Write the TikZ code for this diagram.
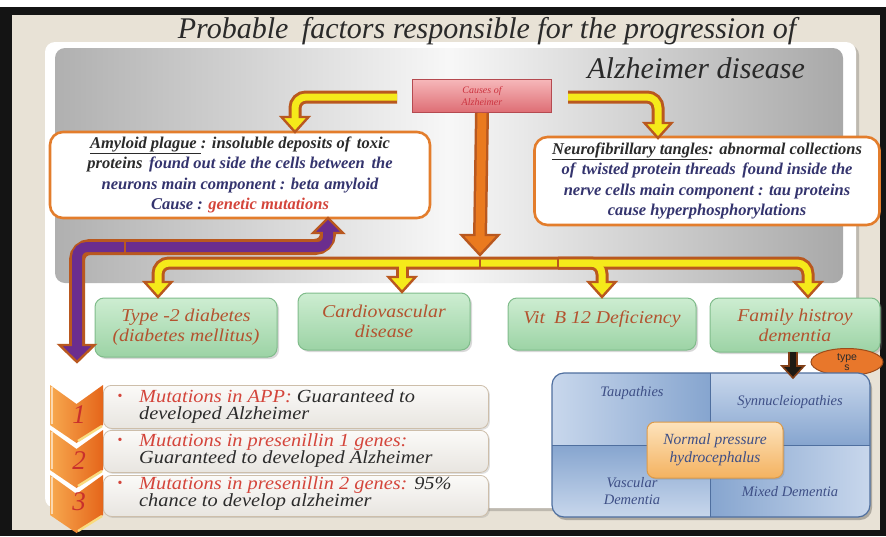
\documentclass[tikz,border=0pt]{standalone}
\usepackage{fontspec}
\setmainfont{Liberation Serif}[ItalicFont={Liberation Serif Italic}, BoldItalicFont={Liberation Serif Bold Italic}, BoldFont={Liberation Serif Bold}]
\newfontfamily\widefont{Liberation Serif}[FakeStretch=1.1, ItalicFont={Liberation Serif Italic}]
\newfontfamily\sansf{Liberation Sans}
\usetikzlibrary{shadows,shapes.geometric,calc}

\definecolor{bgbeige}{HTML}{E8E2D6}
\definecolor{frameblk}{HTML}{141414}
\definecolor{titlec}{HTML}{2A2A2A}
\definecolor{brn}{HTML}{B9581F}
\definecolor{ylw}{HTML}{F5EA1A}
\definecolor{orgA}{HTML}{EA7A1F}
\definecolor{purp}{HTML}{6B2D8E}
\definecolor{navy}{HTML}{34346E}
\definecolor{redt}{HTML}{D4453B}
\definecolor{grnt}{HTML}{B3532F}
\definecolor{infoborder}{HTML}{E37D2C}
\definecolor{gtop}{HTML}{CDEDD1}
\definecolor{gbot}{HTML}{9CD3A5}
\definecolor{gbrd}{HTML}{80BC8B}
\definecolor{ctop}{HTML}{F6B7B9}
\definecolor{cbot}{HTML}{DE6D74}
\definecolor{cbrd}{HTML}{B54A50}
\definecolor{ctext}{HTML}{CC3440}
\definecolor{blite}{HTML}{C8D7EC}
\definecolor{bdark}{HTML}{86A5CF}
\definecolor{bbrd}{HTML}{4F6F9F}
\definecolor{btext}{HTML}{3E4F86}
\definecolor{ntop}{HTML}{FDE3BC}
\definecolor{nbot}{HTML}{F4B260}
\definecolor{nbrd}{HTML}{DB9A4A}
\definecolor{ltop}{HTML}{FBFAF8}
\definecolor{lbot}{HTML}{E8E5E0}
\definecolor{lbrd}{HTML}{CDBEAA}
\definecolor{chl}{HTML}{F7A94F}
\definecolor{chd}{HTML}{E5651A}
\definecolor{chhi}{HTML}{F9DB7E}
\definecolor{numc}{HTML}{C9302C}
\definecolor{darkt}{HTML}{2B2B2B}
\definecolor{typesc}{HTML}{E8772B}
\definecolor{darkarr}{HTML}{1E1A14}

\begin{document}
\begin{tikzpicture}[x=1pt,y=-1pt,
  titlef/.style={font=\fontsize{30}{34}\selectfont\itshape, text=titlec, inner sep=0pt},
  causesbox/.style={draw=cbrd, line width=1pt, top color=ctop, bottom color=cbot, minimum width=139pt, minimum height=33pt, inner sep=0pt, align=center, font=\fontsize{10}{12}\selectfont\itshape, text=ctext},
  infobox/.style={draw=infoborder, line width=2.6pt, fill=white, rounded corners=13pt, align=center, inner sep=0pt, font=\fontsize{16.5}{20.5}\selectfont\bfseries\itshape, text=darkt},
  gbox/.style={draw=gbrd, line width=1pt, top color=gtop, bottom color=gbot, rounded corners=9pt, align=center, inner sep=0pt, font=\widefont\fontsize{18}{20}\selectfont\itshape, text=grnt, drop shadow={opacity=0.3, shadow xshift=2pt, shadow yshift=-2pt}},
  celltext/.style={font=\fontsize{14.5}{17}\selectfont\itshape, text=btext, align=center, inner sep=0pt},
  npbox/.style={draw=nbrd, line width=1pt, top color=ntop, bottom color=nbot, rounded corners=8pt, minimum width=136pt, minimum height=56pt, align=center, inner sep=0pt, font=\fontsize{15.5}{18}\selectfont\itshape, text=btext, drop shadow={opacity=0.3, shadow xshift=1.5pt, shadow yshift=-1.5pt}},
  lbox/.style={draw=lbrd, line width=0.8pt, top color=ltop, bottom color=lbot, rounded corners=8pt, minimum width=385pt, inner sep=0pt, drop shadow={opacity=0.25, shadow xshift=1.5pt, shadow yshift=-1.5pt}},
  ltext/.style={font=\widefont\fontsize{18.5}{17}\selectfont\itshape, text=darkt, align=left, inner sep=0pt},
  bul/.style={font=\fontsize{14}{14}\selectfont, text=redt, inner sep=0pt},
  numf/.style={font=\fontsize{27}{27}\selectfont\itshape, text=numc, inner sep=0pt},
  ybrn/.style={draw=brn, line width=13pt, rounded corners=11pt},
  yin/.style={draw=ylw, line width=7pt, rounded corners=11pt},
  yhead/.style={fill=ylw, draw=brn, line width=2.4pt, line join=miter},
  seam/.style={draw=brn, line width=1.6pt},
]
\useasboundingbox (0,0) rectangle (886,536);
% frame and panels
\fill[white] (0,0) rectangle (886,536);
\fill[frameblk] (0,7) rectangle (886,536);
\fill[bgbeige] (12,15) rectangle (880,530);
\fill[black, opacity=0.18, rounded corners=10pt] (48,45) rectangle (859,511);
\fill[white, rounded corners=10pt] (45,42) rectangle (856,508);
\shade[rounded corners=10pt, left color=gray!62, right color=gray!68, middle color=gray!6] (55,48) rectangle (843,283);

% title
\node[titlef, anchor=base] (title1) at (487,38) {Probable\hspace{0.45em}factors responsible for the progression of};
\node[titlef, anchor=base east] (title2) at (805,78) {Alzheimer disease};

% causes
\node[causesbox] (causes) at (482,96) {Causes of\\Alzheimer};

% info boxes
\node[infobox, minimum width=380pt, minimum height=86pt] (amy) at (240,175)
  {\underline{Amyloid plague }: insoluble deposits of\hspace{0.4em}toxic\\
   proteins\hspace{0.4em}{\color{navy}found out side the cells between\hspace{0.4em}the}\\
   {\color{navy}neurons main component : beta\hspace{0.3em}amyloid}\\
   {\color{navy}Cause :} {\color{redt}genetic mutations}};
\node[infobox, minimum width=345pt, minimum height=88pt] (neu) at (707,181)
  {\underline{Neurofibrillary tangles}: abnormal collections\\
   {\color{navy}of\hspace{0.4em}twisted protein threads\hspace{0.4em}found inside the}\\
   {\color{navy}nerve cells main component : tau proteins}\\
   {\color{navy}cause hyperphosphorylations}};

% green boxes
\node[gbox, minimum width=182pt, minimum height=59pt] (dia) at (186,327.5) {Type -2 diabetes\\(diabetes mellitus)};
\node[gbox, minimum width=172pt, minimum height=57pt] (car) at (384,321.5) {Cardiovascular\\disease};
\node[gbox, minimum width=188pt, minimum height=52pt, text depth=14pt] (vit) at (602,324) {Vit\hspace{0.5em}B 12 Deficiency};
\node[gbox, minimum width=170pt, minimum height=54pt] (fam) at (795,325) {Family histroy\\dementia};

% types ellipse
\node[ellipse, fill=typesc, draw=brn!85!black, line width=1pt, minimum width=72pt, minimum height=27pt, inner sep=0pt, align=center, font=\sansf\fontsize{10.5}{10}\selectfont, text=darkt] (types) at (847,362) {type\\s};

% matrix of dementia types
\fill[black, opacity=0.25, rounded corners=12pt] (554,376) rectangle (872,520);
\begin{scope}
  \clip[rounded corners=12pt] (552,373) rectangle (870,517);
  \shade[left color=blite, right color=bdark] (552,373) rectangle (710,445);
  \shade[top color=blite, bottom color=bdark] (710,373) rectangle (870,445);
  \shade[shading=axis, shading angle=45, top color=bdark, bottom color=blite] (552,445) rectangle (710,517);
  \shade[left color=bdark, right color=blite] (710,445) rectangle (870,517);
  \draw[bbrd, line width=0.9pt] (710,373) -- (710,517);
  \draw[bbrd, line width=0.9pt] (552,445) -- (870,445);
\end{scope}
\draw[bbrd, line width=1.2pt, rounded corners=12pt] (552,373) rectangle (870,517);
\node[celltext] (tau) at (632,393) {Taupathies};
\node[celltext] (syn) at (790,402) {Synnucleiopathies};
\node[celltext] (vas) at (632,491) {Vascular\\Dementia};
\node[celltext] (mix) at (790,492) {Mixed Dementia};
\node[npbox] (nph) at (715,450) {Normal pressure\\hydrocephalus};

% list boxes
\node[lbox, minimum height=43pt, anchor=north west] (lb1) at (103,385) {};
\node[lbox, minimum height=42pt, anchor=north west] (lb2) at (103,430) {};
\node[lbox, minimum height=41pt, anchor=north west] (lb3) at (103,475) {};
\node[bul] (b1) at (120,397) {\textbullet};
\node[bul] (b2) at (120,441) {\textbullet};
\node[bul] (b3) at (120,484) {\textbullet};
\node[ltext, anchor=north west] (lt1) at (139,389) {{\color{redt}Mutations in APP:} Guaranteed to\\developed Alzheimer};
\node[ltext, anchor=north west] (lt2) at (139,433) {{\color{redt}Mutations in presenillin 1 genes:}\\Guaranteed to developed Alzheimer};
\node[ltext, anchor=north west] (lt3) at (139,476) {{\color{redt}Mutations in presenillin 2 genes:} 95\%\\chance to develop alzheimer};

% chevrons
\foreach \k in {2,1,0} {
  \pgfmathsetmacro\yy{385+45*\k}
  \shade[left color=chl, right color=chd] (50,\yy) -- (76.5,\yy+19) -- (103,\yy) -- (103,\yy+40) -- (76.5,\yy+58) -- (50,\yy+40) -- cycle;
  \draw[chhi, line width=2.4pt] (78,\yy+56) -- (102,\yy+41);
  \draw[white!55!chl, line width=2pt] (51.5,\yy+2) -- (51.5,\yy+39);
}
\node[numf] (n1) at (79,415) {1};
\node[numf] (n2) at (79,461) {2};
\node[numf] (n3) at (79,502) {3};

% ---------- arrows ----------
\coordinate (la0) at ($(causes.west)+(-15,1)$);
\coordinate (lab) at (295,120);
\coordinate (latip) at (295,132);
\coordinate (ra0) at ($(causes.east)+(16,1)$);
\coordinate (rab) at (658,126);
\coordinate (ratip) at (658,138);
\coordinate (obase) at (480,238);
\coordinate (otip) at (480,255);
\coordinate (bL) at (158,285);
\coordinate (bR) at (808,263);
\coordinate (bRe) at (808,285);
\coordinate (tipdia) at (158,297);
\coordinate (tipfam) at (808,297);
\coordinate (b2s) at (402,263);
\coordinate (b2e) at (402,280);
\coordinate (tipcar) at (402,292);
\coordinate (b3s) at (558,263);
\coordinate (b3e) at (602,285);
\coordinate (tipvit) at (602,297);
\coordinate (pu0) at (328,230);
\coordinate (pucorner) at (77,247);
\coordinate (pue) at (77,348);
\coordinate (putipup) at (328,218);
\coordinate (putipdn) at (77,362);
\coordinate (da0) at (793,352);
\coordinate (da1) at (793,369);
\coordinate (datip) at (793,378);

% outlines
\draw[ybrn] (la0) -| (lab);
\draw[ybrn] (ra0) -| (rab);
\draw[ybrn] (bL) |- (bR) -- (bRe);
\draw[ybrn] (b2s) -- (b2e);
\draw[ybrn] (b3s) -| (b3e);
\draw[draw=brn, line width=14pt] (causes.south) -- (obase);
\draw[draw=brn, line width=16pt, rounded corners=13pt] (pu0) |- (pucorner) -- (pue);
\draw[draw=brn!70!black, line width=10pt] (da0) -- (da1);
% heads
\filldraw[yhead] (latip) -- ++(-13.5,-15) -- ++(27,0) -- cycle;
\filldraw[yhead] (ratip) -- ++(-13.5,-15) -- ++(27,0) -- cycle;
\filldraw[yhead] (tipdia) -- ++(-13.5,-15) -- ++(27,0) -- cycle;
\filldraw[yhead] (tipfam) -- ++(-13.5,-15) -- ++(27,0) -- cycle;
\filldraw[yhead] (tipcar) -- ++(-13.5,-15) -- ++(27,0) -- cycle;
\filldraw[yhead] (tipvit) -- ++(-13.5,-15) -- ++(27,0) -- cycle;
\filldraw[fill=orgA, draw=brn, line width=2.4pt, line join=miter] (otip) -- ++(-18.5,-20) -- ++(37,0) -- cycle;
\filldraw[fill=purp, draw=brn, line width=2.4pt, line join=miter] (putipup) -- ++(-15,15) -- ++(30,0) -- cycle;
\filldraw[fill=purp, draw=brn, line width=2.4pt, line join=miter] (putipdn) -- ++(-17.5,-17) -- ++(35,0) -- cycle;
\filldraw[fill=darkarr, draw=brn!70!black, line width=1.6pt, line join=miter] (datip) -- ++(-11,-12) -- ++(22,0) -- cycle;
% interiors
\draw[yin] (la0) -| (lab);
\draw[yin] (ra0) -| (rab);
\draw[yin] (bL) |- (bR) -- (bRe);
\draw[yin] (b2s) -- (b2e);
\draw[yin] (b3s) -| (b3e);
\draw[draw=orgA, line width=9pt] (causes.south) -- (obase);
\draw[draw=purp, line width=10pt, rounded corners=10pt] (pu0) |- (pucorner) -- (pue);
\draw[draw=darkarr, line width=6pt] (da0) -- (da1);
% seams
\draw[seam] (480,257) -- (480,269);
\draw[seam] (558,257) -- (558,269);
\draw[seam] (125,240) -- (125,254);
\end{tikzpicture}
\end{document}
